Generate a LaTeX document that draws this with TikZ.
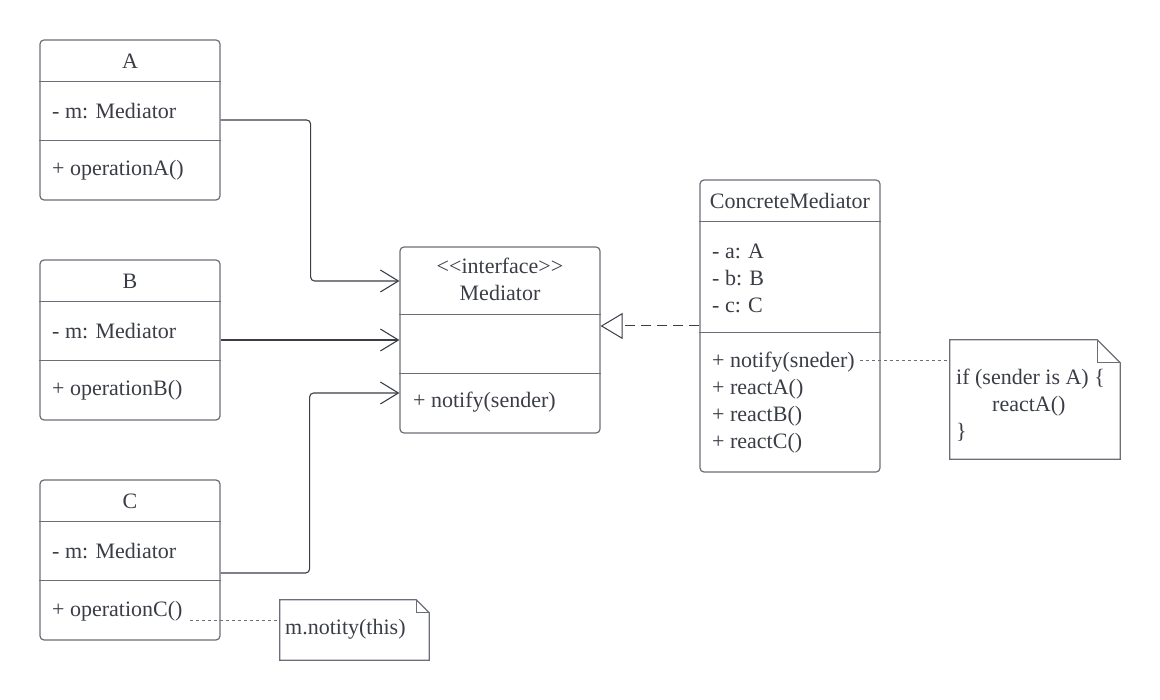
\documentclass[tikz,border=0pt]{standalone}
\usepackage{fontspec}
\setmainfont{Liberation Serif}
\usetikzlibrary{positioning,calc,arrows.meta}
\definecolor{umlline}{HTML}{6B6E76}
\definecolor{umltext}{HTML}{3A3D46}

\begin{document}
\begin{tikzpicture}[x=1pt, y=-1pt,
  box/.style={draw=umlline, line width=1.2pt, rounded corners=4pt, minimum width=180pt, inner sep=0pt},
  divider/.style={draw=umlline, line width=1.2pt},
  txt/.style={text=umltext, font=\fontsize{22}{27}\selectfont, inner sep=0pt},
  notebox/.style={inner sep=0pt},
  assoc/.style={draw=umltext, line width=1.1pt, rounded corners=4pt, -{Straight Barb[length=18pt,width=22pt]}},
  realize/.style={draw=umltext, line width=1pt, dash pattern=on 10pt off 6pt, -{Triangle[open,length=22pt,width=26pt]}},
  noteline/.style={draw=umlline, line width=0.9pt, dash pattern=on 3pt off 3pt},
]
\useasboundingbox (0,0) rectangle (1160,700);

% Class A
\node[box, minimum height=160pt] (A) at (130,120) {};
\node[txt] (A title) at (130,61) {A};
\draw[divider] ([yshift=-42pt]A.north west) -- ([yshift=-42pt]A.north east);
\draw[divider] ([yshift=-101pt]A.north west) -- ([yshift=-101pt]A.north east);
\node[txt, anchor=west] (A attr) at (52,111) {- m: Mediator};
\node[txt, anchor=west] (A ops) at (52,170) {+ operationA()};

% Class B
\node[box, minimum height=160pt] (B) at (130,340) {};
\node[txt] (B title) at (130,281) {B};
\draw[divider] ([yshift=-42pt]B.north west) -- ([yshift=-42pt]B.north east);
\draw[divider] ([yshift=-101pt]B.north west) -- ([yshift=-101pt]B.north east);
\node[txt, anchor=west] (B attr) at (52,331) {- m: Mediator};
\node[txt, anchor=west] (B ops) at (52,390) {+ operationB()};

% Class C
\node[box, minimum height=160pt] (C) at (130,560) {};
\node[txt] (C title) at (130,501) {C};
\draw[divider] ([yshift=-42pt]C.north west) -- ([yshift=-42pt]C.north east);
\draw[divider] ([yshift=-101pt]C.north west) -- ([yshift=-101pt]C.north east);
\node[txt, anchor=west] (C attr) at (52,551) {- m: Mediator};
\node[txt, anchor=west] (C ops) at (52,611) {+ operationC()};

% Interface Mediator
\node[box, minimum width=200pt, minimum height=186pt] (Med) at (500,340) {};
\node[txt, align=center] (Med title) at (500,279) {<\kern0pt<interface>\kern0pt>\\Mediator};
\draw[divider] ([yshift=-68pt]Med.north west) -- ([yshift=-68pt]Med.north east);
\draw[divider] ([yshift=-127pt]Med.north west) -- ([yshift=-127pt]Med.north east);
\node[txt, anchor=west] (Med ops) at (413,402) {+ notify(sender)};

% ConcreteMediator
\node[box, minimum height=292pt] (CM) at (790,326) {};
\node[txt] (CM title) at (790,201) {ConcreteMediator};
\draw[divider] ([yshift=-42pt]CM.north west) -- ([yshift=-42pt]CM.north east);
\draw[divider] ([yshift=-153pt]CM.north west) -- ([yshift=-153pt]CM.north east);
\node[txt, anchor=west, align=left] (CM attr) at (712,278) {- a: A\\- b: B\\- c: C};
\node[txt, anchor=west, align=left] (CM ops) at (712,402.5) {+ notify(sneder)\\+ reactA()\\+ reactB()\\+ reactC()};

% Notes
\node[notebox, minimum width=170pt, minimum height=119pt] (note1) at (1035,399.5) {};
\draw[divider] (note1.north west) -- ([xshift=-23pt]note1.north east) -- ([yshift=-23pt]note1.north east)
  -- (note1.south east) -- (note1.south west) -- cycle;
\draw[divider] ([xshift=-23pt]note1.north east) -- ([xshift=-23pt,yshift=-23pt]note1.north east) -- ([yshift=-23pt]note1.north east);
\node[txt, anchor=west, align=left] (note1 text) at (956,405) {if (sender is A) \{\\\hspace*{36pt}reactA()\\\}};

\node[notebox, minimum width=149pt, minimum height=60pt] (note2) at (354.5,630) {};
\draw[divider] (note2.north west) -- ([xshift=-13pt]note2.north east) -- ([yshift=-13pt]note2.north east)
  -- (note2.south east) -- (note2.south west) -- cycle;
\draw[divider] ([xshift=-13pt]note2.north east) -- ([xshift=-13pt,yshift=-13pt]note2.north east) -- ([yshift=-13pt]note2.north east);
\node[txt, anchor=west] (note2 text) at (285,629) {m.notity(this)};

% Connectors
\coordinate (Med in A) at ($(Med.west)+(0,-59)$);
\coordinate (Med in C) at ($(Med.west)+(0,53)$);
\coordinate (C out) at ($(C.east)+(0,13)$);
\draw[assoc] (A.east) -- ++(90,0) |- (Med in A);
\draw[assoc] (B.east) -- (Med.west);
\draw[assoc] (C out) -- ++(89,0) |- (Med in C);
\draw[realize] (CM.west) -- (CM.west -| Med.east);

\coordinate (notify end) at (860,360);
\coordinate (opC end) at (190,620);
\draw[noteline] (notify end) -- (notify end -| note1.west);
\draw[noteline] (opC end) -- (opC end -| note2.west);

\end{tikzpicture}
\end{document}
